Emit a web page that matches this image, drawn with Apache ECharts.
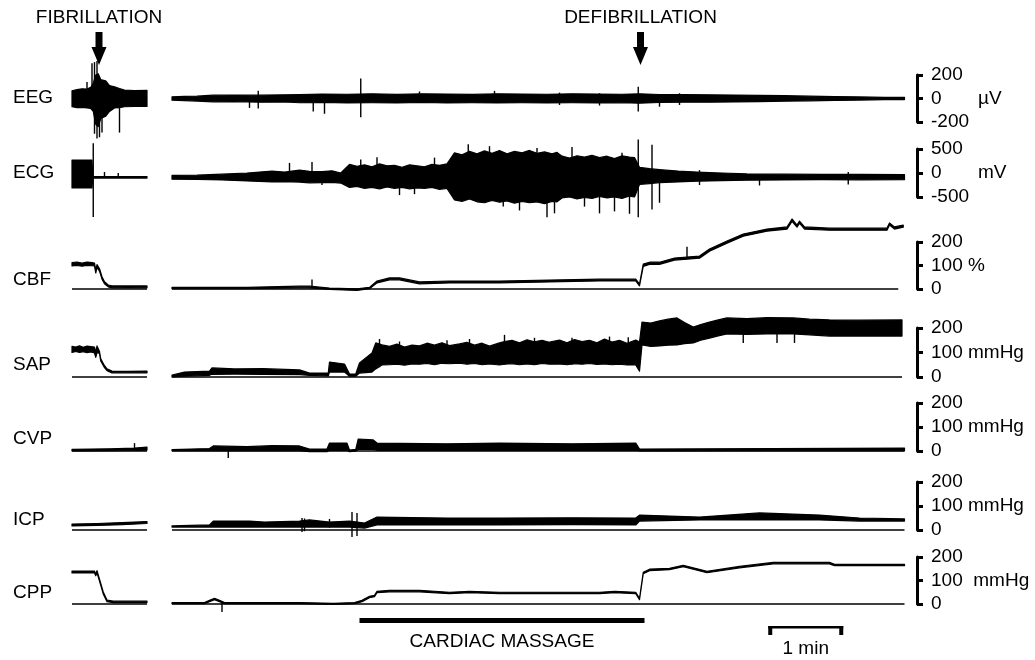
<!DOCTYPE html>
<html><head><meta charset="utf-8">
<script src="https://cdn.jsdelivr.net/npm/echarts@6/dist/echarts.min.js"></script>
<style>html,body{margin:0;padding:0;background:#fff}#c{width:1035px;height:660px}</style>
</head><body><div id="c"></div>
<script>
// ---- time in seconds; left panel 0-60 s, right panel 80-666 s ----
const T_MAX = 665.6;
const EVENTS_T = [21.6, 454.8];                 // fibrillation, defibrillation
const EVENTS_TEXT = ['FIBRILLATION', 'DEFIBRILLATION'];
const MASSAGE = [230, 458];
const SCALE_BAR = [557, 617];

// tick labels (min -> max)
const EEG_TICKS = ['-200', '0', '200'];
const ECG_TICKS = ['-500', '0', '500'];
const CBF_TICKS = ['0', '100 %', '200'];
const MMHG_TICKS = ['0', '100 mmHg', '200'];
const CPP_TICKS = ['0', '100  mmHg', '200'];

// ---- envelopes [t, low, high] ----
const EEG_L = [[0,-70,65],[4,-78,75],[8,-75,82],[12,-80,80],[15,-85,95],[17,-110,130],[19,-220,200],[21,-240,210],[23,-170,160],[27,-150,150],[30,-110,110],[34,-80,100],[38,-78,85],[42,-70,72],[50,-68,68],[60,-68,70]];
const EEG_R = [[80,-14,14],[90,-18,18],[100,-22,20],[113,-28,28],[130,-26,30],[150,-32,28],[170,-30,32],[182,-36,34],[200,-34,38],[220,-38,36],[240,-36,40],[260,-38,35],[280,-34,40],[300,-38,38],[320,-36,35],[340,-38,40],[360,-36,38],[380,-38,36],[400,-36,40],[420,-38,38],[440,-36,36],[454,-40,40],[470,-34,34],[490,-32,33],[510,-31,31],[530,-29,30],[550,-27,27],[570,-23,24],[590,-20,20],[610,-16,16],[630,-13,13],[650,-10,10],[666,-9,9]];
const EEG_SPK = [[12,-20,140],[16,-40,300],[18,-300,310],[20,-340,320],[22,-330,180],[24,-290,120],[38,-290,20],
  [142,-80,20],[149,-85,65],[193,-110,20],[202,-130,20],[231,-160,170],[278,-20,60],[338,-20,65],[390,-55,50],[422,-60,45],[453,-110,100],[470,-70,30],[486,-55,45]];

const ECG_L = [[0,-310,270],[16,-310,270],[16.6,-105,-75],[60,-105,-75]];
const ECG_R = [[80,-130,-50],[100,-135,-45],[120,-145,-25],[140,-165,0],[150,-175,20],[160,-185,40],[170,-180,20],[182,-190,60],[190,-205,35],[200,-200,30],[208,-195,45],[215,-210,0],
  [222,-300,180],[228,-280,140],[234,-320,170],[240,-300,130],[246,-330,190],[252,-290,150],[258,-320,160],[264,-300,120],[270,-330,170],[276,-310,150],[282,-320,130],[288,-300,180],[294,-340,160],[300,-320,190],
  [306,-560,420],[312,-590,380],[318,-540,450],[324,-600,400],[330,-620,460],[336,-570,410],[342,-610,470],[348,-580,400],[354,-630,450],[360,-590,420],[366,-620,470],[372,-600,410],[378,-640,440],[384,-590,400],[388,-600,430],
  [392,-520,350],[398,-500,310],[404,-540,360],[410,-510,330],[416,-530,370],[422,-490,320],[428,-520,350],[434,-500,300],[440,-530,360],[446,-480,330],[450,-500,320],
  [454,-240,120],[462,-220,90],[470,-200,70],[485,-185,40],[500,-170,20],[520,-160,0],[540,-150,-20],[570,-145,-25],[600,-140,-30],[630,-142,-30],[666,-140,-35]];
const ECG_SPK = [[17,-915,620],[26,-90,20],[37,-90,0],
  [174,-90,210],[192,-90,230],[200,-250,0],[231,-90,280],[244,-90,330],[262,-460,-90],[274,-440,-90],[290,-90,320],[317,-90,600],[334,-90,560],[345,-700,-90],[358,-780,-90],[372,-90,520],[380,-920,-90],[386,-840,-90],[400,-90,540],[410,-700,-90],[422,-840,-90],[434,-800,-90],[440,-90,420],[446,-850,-90],[453,-920,700],[464,-760,590],[470,-620,-90],[502,-250,60],[550,-260,-90],[621,-240,20]];

const CBF_L = [[0,98,112],[4,100,115],[8,97,110],[12,100,114],[16,99,112],[18,98,110],[19,68,80],[20,92,104],[22,76,86],[24,42,52],[26,22,31],[29,9,17],[32,5,13],[45,6,13],[60,5,13]];
const CBF_R = [[80,1,7],[140,1,7],[182,5,12],[190,5,12],[206,-2,4],[228,-6,1],[238,1,7],[244,26,34],[254,39,47],[262,39,47],[278,22,30],[302,26,34],[342,26,34],[382,30,38],[422,34,42],[451,34,42],[454,13,21],[457,96,106],[462,105,114],[470,105,114],[482,123,132],[492,127,136],[502,131,140],[510,161,170],[524,195,204],[537,225,234],[556,246,255],[572,255,264],[576,288,298],[580,263,272],[582,280,289],[586,255,264],[606,250,259],[630,250,259],[652,250,259],[654,272,281],[658,255,264],[665,263,272]];
const CBF_SPK = [[192,5,40],[492,130,180]];

const SAP_L = [[0,100,125],[3,104,122],[6,100,127],[9,103,121],[12,99,126],[15,102,124],[18,98,122],[19,80,100],[20,100,127],[22,96,104],[23,65,74],[26,38,46],[28,26,33],[32,17,24],[45,17,23],[60,17,24]];
const SAP_R = [[80,0,8],[90,3,20],[110,7,24],[112,11,37],[130,12,33],[153,11,34],[182,10,29],[190,7,16],[205,4,16],[206,20,61],[218,20,53],[222,3,12],[227,3,12],[230,16,57],[240,20,98],
  [243,33,139],[248,49,131],[254,50,125],[260,52,134],[266,48,122],[272,53,130],[278,52,127],[284,55,138],[290,50,130],[296,56,140],[302,54,128],[310,57,135],[316,52,142],[322,55,130],[328,50,138],[334,53,126],[342,49,139],[346,52,145],[352,54,150],[358,50,140],[364,53,152],[370,50,144],[376,55,150],[382,52,142],[390,53,151],[396,50,140],[402,54,153],[408,52,145],[414,55,150],[420,51,140],[426,53,155],[432,50,143],[438,52,150],[444,49,138],[451,49,151],
  [454,24,143],[456,131,224],[463,125,220],[470,127,229],[477,130,236],[484,131,241],[490,136,222],[497,139,204],[503,150,214],[510,159,224],[517,168,233],[524,176,241],[540,174,238],[556,176,242],[577,176,241],[590,172,236],[606,167,233],[630,167,232],[664,167,233]];
const SAP_SPK = [[246,40,155],[262,50,145],[300,55,150],[318,55,155],[346,50,172],[370,50,160],[400,50,160],[430,50,165],[445,50,162],[537,139,230],[564,139,230],[578,139,230]];

const CVP_L = [[0,0,7],[30,1,9],[50,2,12],[60,4,16]];
const CVP_R = [[80,1,6],[110,1,10],[113,1,21],[140,1,18],[160,1,22],[182,1,21],[190,-3,8],[204,-3,8],[206,3,33],[220,3,33],[222,-3,4],[227,-1,7],[229,7,50],[241,7,46],[244,3,33],[300,3,30],[342,3,33],[400,3,30],[451,3,33],[454,0,8],[560,1,10],[666,1,12]];
const CVP_SPK = [[50,5,33],[125,-29,10]];

const ICP_L = [[0,17,25],[20,19,27],[40,22,31],[60,27,35]];
const ICP_R = [[80,12,17],[110,12,21],[113,12,37],[142,12,37],[154,12,33],[182,12,37],[190,12,42],[206,12,33],[222,12,37],[234,8,29],[244,21,54],[300,21,50],[342,21,50],[400,22,51],[451,21,50],[454,37,62],[502,42,54],[550,42,71],[598,42,62],[630,37,50],[666,37,46]];
const ICP_SPK = [[184,-8,50],[186,-5,48],[206,10,46],[224,-29,75],[228,-25,71]];

const CPP_L = [[0,132,140],[18,132,140],[19,120,127],[20,133,142],[22,98,106],[25,43,51],[28,10,17],[33,6,12],[60,6,12]];
const CPP_R = [[80,1,6],[106,1,6],[110,10,16],[114,18,24],[118,10,16],[122,1,6],[182,1,6],[209,-2,3],[226,1,6],[232,10,16],[238,27,33],[242,31,37],[244,48,54],[254,52,58],[278,52,58],[302,44,50],[318,48,54],[342,44,50],[390,44,50],[422,44,50],[434,48,54],[451,44,50],[454,18,24],[457,129,135],[462,142,148],[478,146,152],[489,159,165],[508,133,139],[534,154,160],[561,171,177],[606,171,177],[610,163,169],[666,163,169]];
const CPP_SPK = [[120,-34,5]];

// zero baselines [t0, t1]
const BASE_CBF = [[0,60],[80,661]];
const BASE_SAP = [[0,60],[80,664]];
const BASE_STD = [[0,60],[80,666]];

const ROWS = [
  {label:'EEG', top:75,  height:47, min:-200, max:200, step:200, ticks:EEG_TICKS, unit:'µV', band:[EEG_L,EEG_R], spk:EEG_SPK, base:null, labelY:98},
  {label:'ECG', top:149, height:48, min:-500, max:500, step:500, ticks:ECG_TICKS, unit:'mV', band:[ECG_L,ECG_R], spk:ECG_SPK, base:null, labelY:173},
  {label:'CBF', top:242, height:47, min:0, max:200, step:100, ticks:CBF_TICKS, band:[CBF_L,CBF_R], spk:CBF_SPK, base:BASE_CBF, labelY:280},
  {label:'SAP', top:328, height:49, min:0, max:200, step:100, ticks:MMHG_TICKS, band:[SAP_L,SAP_R], spk:SAP_SPK, base:BASE_SAP, labelY:365},
  {label:'CVP', top:403, height:48, min:0, max:200, step:100, ticks:MMHG_TICKS, band:[CVP_L,CVP_R], spk:CVP_SPK, base:BASE_STD, labelY:439},
  {label:'ICP', top:482, height:48, min:0, max:200, step:100, ticks:MMHG_TICKS, band:[ICP_L,ICP_R], spk:ICP_SPK, base:BASE_STD, labelY:520},
  {label:'CPP', top:557, height:47, min:0, max:200, step:100, ticks:CPP_TICKS, band:[CPP_L,CPP_R], spk:CPP_SPK, base:BASE_STD, labelY:593}
];

const FONT_FAMILY = '"Liberation Sans", Arial, Helvetica, sans-serif';
const FONT = '19px ' + FONT_FAMILY;

const grids = [], xAxes = [], yAxes = [], series = [];
ROWS.forEach((r, i) => {
  grids.push({left:72, width:832, top:r.top, height:r.height});
  xAxes.push({gridIndex:i, type:'value', min:0, max:T_MAX, show:false});
  yAxes.push({
    gridIndex:i, type:'value', min:r.min, max:r.max, interval:r.step,
    position:'right', offset:13,
    axisLine:{show:true, onZero:false, lineStyle:{color:'#000', width:3}},
    axisTick:{show:true, inside:false, length:6, lineStyle:{color:'#000', width:3}},
    axisLabel:{show:true, margin:14, color:'#000', fontSize:19, fontFamily:FONT_FAMILY,
      formatter: v => r.ticks[Math.round((v - r.min) / r.step)]},
    splitLine:{show:false}
  });
  const segs = r.band;
  series.push({
    type:'custom', xAxisIndex:i, yAxisIndex:i, silent:true, animation:false, clip:false,
    data: segs.map(s => [s[0][0], s[0][1]]),
    renderItem: (params, api) => {
      const seg = segs[params.dataIndex];
      const up = seg.map(p => api.coord([p[0], p[2]]));
      const dn = seg.map(p => api.coord([p[0], p[1]])).reverse();
      return {type:'polygon', shape:{points: up.concat(dn)},
              style:{fill:'#000', stroke:'#000', lineWidth:1.2, lineJoin:'round'}};
    }
  });
  series.push({
    type:'custom', xAxisIndex:i, yAxisIndex:i, silent:true, animation:false, clip:false,
    data: r.spk, encode:{x:0, y:[1,2]},
    renderItem: (params, api) => {
      const a = api.coord([api.value(0), api.value(1)]);
      const b = api.coord([api.value(0), api.value(2)]);
      return {type:'line', shape:{x1:a[0], y1:a[1], x2:b[0], y2:b[1]},
              style:{stroke:'#000', lineWidth:1.4}};
    }
  });
  if (r.base) {
    series.push({
      type:'custom', xAxisIndex:i, yAxisIndex:i, silent:true, animation:false, clip:false,
      data: r.base, encode:{x:[0,1]},
      renderItem: (params, api) => {
        const a = api.coord([api.value(0), 0]);
        const b = api.coord([api.value(1), 0]);
        return {type:'line', shape:{x1:a[0], y1:a[1], x2:b[0], y2:b[1]},
                style:{stroke:'#000', lineWidth:1.6}};
      }
    });
  }
});

const chart = echarts.init(document.getElementById('c'), null, {renderer:'canvas'});
chart.setOption({backgroundColor:'#fff', animation:false, grid:grids, xAxis:xAxes, yAxis:yAxes, series:series});

const X = t => chart.convertToPixel({xAxisIndex:0}, t);
const Y = (i, v) => chart.convertToPixel({yAxisIndex:i}, v);
function txt(text, x, y, align) {
  return {type:'text', x:x, y:y, silent:true,
    style:{text:text, font:FONT, fill:'#000', align:align || 'left', verticalAlign:'middle',
           textAlign:align || 'left', textVerticalAlign:'middle'}};
}
const g = [];
ROWS.forEach((r, i) => {
  g.push(txt(r.label, 13, r.labelY));
  if (r.unit) g.push(txt(r.unit, 978, Y(i, 0)));
});
EVENTS_T.forEach((t, k) => {
  const xa = X(t);
  g.push(txt(EVENTS_TEXT[k], xa, 18, 'center'));
  g.push({type:'rect', silent:true, shape:{x:xa-3.5, y:32, width:7, height:16}, style:{fill:'#000'}});
  g.push({type:'polygon', silent:true, shape:{points:[[xa-7.5,47],[xa+7.5,47],[xa,65]]}, style:{fill:'#000'}});
});
const m0 = X(MASSAGE[0]), m1 = X(MASSAGE[1]);
g.push({type:'rect', silent:true, shape:{x:m0, y:618, width:m1-m0, height:5}, style:{fill:'#000'}});
g.push(txt('CARDIAC MASSAGE', (m0+m1)/2, 642, 'center'));
const s0 = X(SCALE_BAR[0]), s1 = X(SCALE_BAR[1]);
g.push({type:'rect', silent:true, shape:{x:s0, y:626, width:s1-s0, height:2.5}, style:{fill:'#000'}});
g.push({type:'rect', silent:true, shape:{x:s0, y:626, width:4, height:9}, style:{fill:'#000'}});
g.push({type:'rect', silent:true, shape:{x:s1-4, y:626, width:4, height:9}, style:{fill:'#000'}});
g.push(txt('1 min', (s0+s1)/2, 649, 'center'));
chart.setOption({graphic:g});
</script></body></html>
